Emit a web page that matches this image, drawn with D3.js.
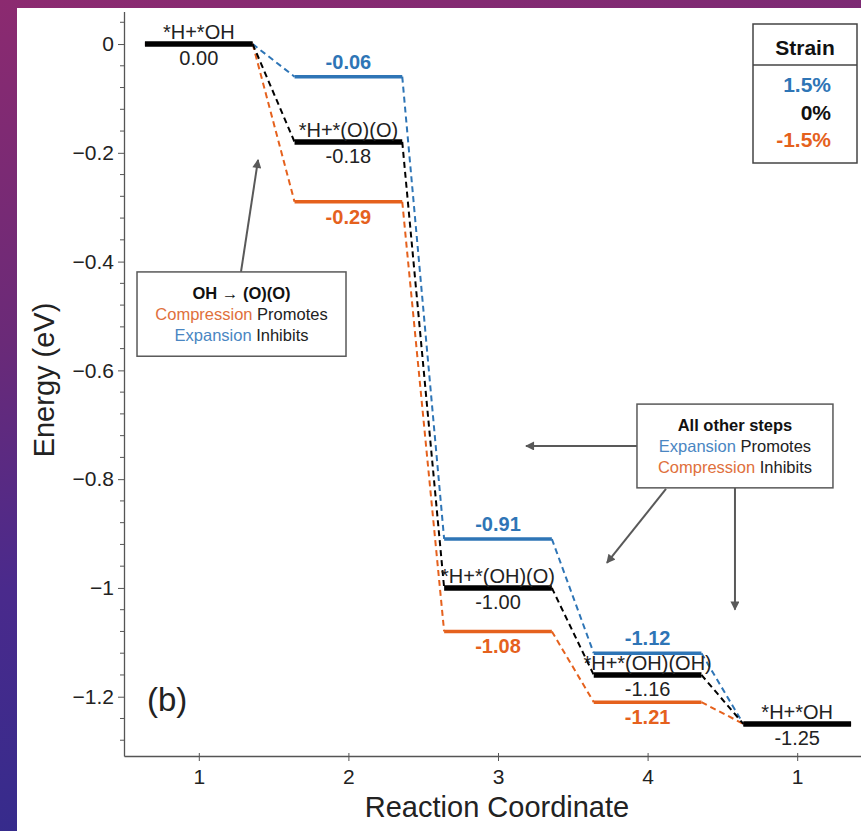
<!DOCTYPE html>
<html lang="en">
<head>
<meta charset="UTF-8">
<title>Energy diagram - strain</title>
<style>
  html, body { margin: 0; padding: 0; }
  body {
    width: 861px; height: 831px; overflow: hidden;
    background: linear-gradient(170deg, #8c2a70 0%, #6a2a78 35%, #4a2a8c 60%, #2a2c8c 100%);
  }
  #panel { position: absolute; left: 17px; top: 8px; width: 844px; height: 823px; background: #fff; }
  svg { position: absolute; left: 0; top: 0; font-family: "Liberation Sans", Arial, sans-serif; }
</style>
</head>
<body>
<div id="panel"></div>
<script src="https://d3js.org/d3.v7.min.js"></script>
<script>
// reaction steps along the x axis and their tick labels
var steps = [1, 2, 3, 4, 5];
var stepLabels = ['1', '2', '3', '4', '1'];
var species = ['*H+*OH', '*H+*(O)(O)', '*H+*(OH)(O)', '*H+*(OH)(OH)', '*H+*OH'];

// energies (eV) for each strain
var energyZero = [0.00, -0.18, -1.00, -1.16, -1.25];     // 0%
var energyExpand = [0.00, -0.06, -0.91, -1.12, -1.25];   // 1.5%
var energyCompress = [0.00, -0.29, -1.08, -1.21, -1.25]; // -1.5%

var strainNames = ['1.5%', '0%', '-1.5%'];
var yTicks = [0, -0.2, -0.4, -0.6, -0.8, -1, -1.2];

var blue = '#2e75b6', orange = '#e5611d', grey = '#595959';
var W = 861, H = 831;
var halfW = 0.36;   // half width of an energy level, in step units

var x = d3.scaleLinear().domain([0.5, 5.5]).range([124, 872]);
var y = d3.scaleLinear().domain([0.06, -1.309]).range([11.4, 756]);

var svg = d3.select('body').append('svg').attr('width', W).attr('height', H);

var defs = svg.append('defs');
defs.append('marker').attr('id', 'arr')
  .attr('viewBox', '0 0 10 10').attr('refX', 9).attr('refY', 5)
  .attr('markerWidth', 12).attr('markerHeight', 9).attr('markerUnits', 'userSpaceOnUse')
  .attr('orient', 'auto')
  .append('path').attr('d', 'M0,0 L10,5 L0,10 Z').attr('fill', grey);

// axes
var yAxis = svg.append('g').attr('transform', 'translate(124,0)')
  .call(d3.axisLeft(y).tickValues(yTicks).tickFormat(d3.format('')).tickSize(6).tickSizeOuter(0).tickPadding(4));
var minor = d3.range(0.04, -1.3, -0.04).filter(function(v) {
  return yTicks.every(function(t) { return Math.abs(t - v) > 1e-6; });
});
yAxis.selectAll('.minor').data(minor).enter().append('line')
  .attr('class', 'minor')
  .attr('x1', -4).attr('x2', 0)
  .attr('y1', function(d) { return y(d); }).attr('y2', function(d) { return y(d); })
  .attr('stroke', '#555').attr('stroke-width', 1);

var xAxis = svg.append('g').attr('transform', 'translate(0,756)')
  .call(d3.axisBottom(x).tickValues(steps).tickFormat(function(d, i) { return stepLabels[i]; })
    .tickSize(5).tickSizeOuter(0).tickPadding(8));
xAxis.selectAll('.tick line').attr('y1', -3);

[yAxis, xAxis].forEach(function(a) {
  a.select('.domain').attr('stroke', '#555').attr('stroke-width', 1.3);
  a.selectAll('.tick line').attr('stroke', '#555');
  a.selectAll('.tick text').attr('font-size', 21).attr('fill', '#222')
    .attr('font-family', '"Liberation Sans", Arial, sans-serif');
});

svg.append('text').attr('transform', 'translate(54,380) rotate(-90)')
  .attr('text-anchor', 'middle').attr('font-size', 29).attr('fill', '#222').text('Energy (eV)');
svg.append('text').attr('x', 497).attr('y', 817)
  .attr('text-anchor', 'middle').attr('font-size', 29).attr('fill', '#222').text('Reaction Coordinate');

svg.append('text').attr('x', 147).attr('y', 711).attr('font-size', 33).attr('fill', '#222').text('(b)');

// energy profiles
var series = [
  {vals: energyExpand, color: blue, width: 3.5},
  {vals: energyCompress, color: orange, width: 3.5},
  {vals: energyZero, color: '#000', width: 5.5}
];

var plot = svg.append('g');
series.forEach(function(s) {
  var g = plot.append('g');
  var links = d3.range(steps.length - 1);
  g.selectAll('line.link').data(links).enter().append('line')
    .attr('class', 'link')
    .attr('x1', function(i) { return x(steps[i] + halfW); })
    .attr('y1', function(i) { return y(s.vals[i]); })
    .attr('x2', function(i) { return x(steps[i + 1] - halfW); })
    .attr('y2', function(i) { return y(s.vals[i + 1]); })
    .attr('stroke', s.color).attr('stroke-width', 2).attr('stroke-dasharray', '6,4');
  g.selectAll('line.level').data(steps).enter().append('line')
    .attr('class', 'level')
    .attr('x1', function(d) { return x(d - halfW); })
    .attr('x2', function(d) { return x(d + halfW); })
    .attr('y1', function(d, i) { return y(s.vals[i]); })
    .attr('y2', function(d, i) { return y(s.vals[i]); })
    .attr('stroke', s.color).attr('stroke-width', s.width);
});

// labels on the 0% levels
var labels = svg.append('g').attr('text-anchor', 'middle').attr('font-size', 20).attr('fill', '#222');
steps.forEach(function(st, i) {
  labels.append('text').attr('x', x(st)).attr('y', y(energyZero[i]) - 5).text(species[i]);
  labels.append('text').attr('x', x(st)).attr('y', y(energyZero[i]) + 21).text(energyZero[i].toFixed(2));
});
// labels on strained levels (where they split from 0%)
steps.forEach(function(st, i) {
  if (energyExpand[i] !== energyZero[i]) {
    labels.append('text').attr('x', x(st)).attr('y', y(energyExpand[i]) - 8)
      .attr('font-weight', 'bold').attr('fill', blue).text(energyExpand[i].toFixed(2));
  }
  if (energyCompress[i] !== energyZero[i]) {
    labels.append('text').attr('x', x(st)).attr('y', y(energyCompress[i]) + 22)
      .attr('font-weight', 'bold').attr('fill', orange).text(energyCompress[i].toFixed(2));
  }
});

// strain legend
var lg = svg.append('g');
lg.append('rect').attr('x', 753).attr('y', 24).attr('width', 104).attr('height', 139)
  .attr('fill', '#fff').attr('stroke', '#444').attr('stroke-width', 1.5);
lg.append('line').attr('x1', 753).attr('x2', 857).attr('y1', 65).attr('y2', 65)
  .attr('stroke', '#444').attr('stroke-width', 1.5);
lg.append('text').attr('x', 805).attr('y', 55).attr('text-anchor', 'middle')
  .attr('font-size', 21).attr('font-weight', 'bold').attr('fill', '#111').text('Strain');
lg.selectAll('text.item').data(strainNames).enter().append('text')
  .attr('class', 'item')
  .attr('x', 831).attr('y', function(d, i) { return 92 + i * 27.5; })
  .attr('text-anchor', 'end').attr('font-size', 21).attr('font-weight', 'bold')
  .attr('fill', function(d, i) { return [blue, '#111', orange][i]; })
  .text(function(d) { return d; });

// annotation boxes
function noteBox(x0, x1, y0, y1, lines) {
  var g = svg.append('g');
  g.append('rect').attr('x', x(x0)).attr('y', y(y0))
    .attr('width', x(x1) - x(x0)).attr('height', y(y1) - y(y0))
    .attr('fill', '#fff').attr('stroke', grey).attr('stroke-width', 1.5);
  var cx = (x(x0) + x(x1)) / 2;
  lines.forEach(function(parts, i) {
    var t = g.append('text').attr('x', cx).attr('y', y(y0) + 27 + i * 21)
      .attr('text-anchor', 'middle').attr('font-size', 16.5);
    parts.forEach(function(p) {
      t.append('tspan').attr('fill', p[1]).attr('font-weight', p[2] ? 'bold' : null).text(p[0]);
    });
  });
}
function arrow(xa, ya, xb, yb) {
  svg.append('line')
    .attr('x1', x(xa)).attr('y1', y(ya)).attr('x2', x(xb)).attr('y2', y(yb))
    .attr('stroke', grey).attr('stroke-width', 2).attr('marker-end', 'url(#arr)');
}

arrow(1.282, -0.419, 1.396, -0.213);
noteBox(0.587, 1.984, -0.419, -0.574, [
  [['OH \u2192 (O)(O)', '#111', true]],
  [['Compression ', '#e0703c'], ['Promotes', '#222']],
  [['Expansion ', '#4a86c2'], ['Inhibits', '#222']]
]);

arrow(3.929, -0.739, 3.187, -0.739);
arrow(4.123, -0.818, 3.728, -0.954);
arrow(4.584, -0.816, 4.584, -1.040);
noteBox(3.929, 5.239, -0.662, -0.816, [
  [['All other steps', '#111', true]],
  [['Expansion ', '#4a86c2'], ['Promotes', '#222']],
  [['Compression ', '#e0703c'], ['Inhibits', '#222']]
]);
</script>
</body>
</html>
